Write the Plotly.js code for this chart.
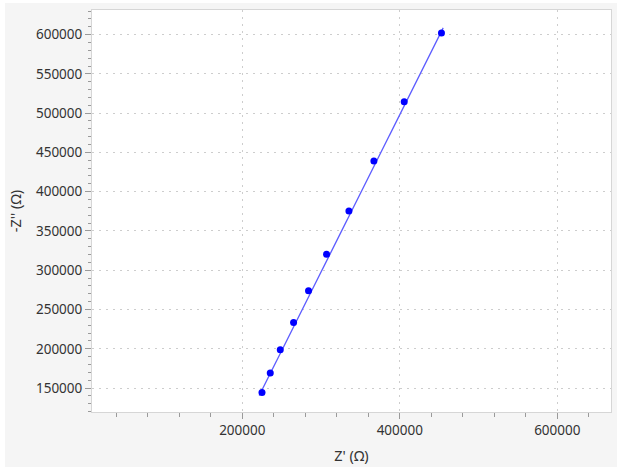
<!DOCTYPE html>
<html>
<head>
<meta charset="utf-8">
<script src="https://cdn.plot.ly/plotly-3.0.1.min.js"></script>
<style>
  html, body { margin: 0; padding: 0; background: #ffffff; }
  #grafico { position: absolute; left: 5px; top: 3px; width: 612px; height: 464px; }
</style>
</head>
<body>
<div id="grafico"></div>
<script>
/* Datos medidos: Z' y -Z'' en ohmios */
const zReal = [225000, 235500, 248200, 265100, 284100, 307000, 335400, 367100, 405600, 452900];
const zImag = [144400, 169100, 198700, 233500, 273800, 320400, 375500, 439100, 514600, 602000];

/* Extremos de la recta de ajuste */
const ajusteX = [221500, 455100];
const ajusteY = [140400, 608500];

const ejeX = "Z' (Ω)";
const ejeY = "-Z'' (Ω)";

function crearGrafico() {

    const traceAjuste = {
        type: "scatter",
        mode: "lines",
        x: ajusteX,
        y: ajusteY,
        line: { color: "#5c5cff", width: 1.3 },
        hoverinfo: "skip"
    };

    const tracePuntos = {
        type: "scatter",
        mode: "markers",
        x: zReal,
        y: zImag,
        marker: { color: "#0000ff", size: 7 }
    };

    const fuente = { family: "Noto Sans, Open Sans, sans-serif", size: 13.5, color: "#333333" };
    const fuenteTitulo = { family: "Noto Sans, Open Sans, sans-serif", size: 14.5, color: "#333333" };

    const ejeComun = {
        showline: true,
        mirror: true,
        linecolor: "#d6d6d6",
        linewidth: 1,
        showgrid: true,
        gridcolor: "#cdcdcd",
        griddash: "2px,5px",
        gridwidth: 1,
        zeroline: false,
        ticks: "outside",
        ticklen: 6,
        tickcolor: "#9a9a9a",
        tickfont: fuente,
        exponentformat: "none"
    };

    const layout = {
        margin: { l: 87, r: 6, t: 7, b: 55 },
        paper_bgcolor: "#f5f5f5",
        plot_bgcolor: "#ffffff",
        showlegend: false,
        font: fuente,
        xaxis: Object.assign({}, ejeComun, {
            range: [9143, 668190],
            dtick: 200000,
            tick0: 0,
            tickformat: "d",
            minor: { dtick: 40000, ticks: "outside", ticklen: 4, tickcolor: "#9a9a9a", showgrid: false },
            title: { text: ejeX, font: fuenteTitulo, standoff: 12 }
        }),
        yaxis: Object.assign({}, ejeComun, {
            range: [119500, 631300],
            dtick: 50000,
            tick0: 0,
            tickformat: "d",
            minor: { dtick: 10000, ticks: "outside", ticklen: 3, tickcolor: "#9a9a9a", showgrid: false },
            title: { text: ejeY, font: fuenteTitulo, standoff: 12 }
        })
    };

    Plotly.newPlot("grafico", [traceAjuste, tracePuntos], layout, { displayModeBar: false, staticPlot: true });
}

document.addEventListener("DOMContentLoaded", () => {
    crearGrafico();
});
</script>
</body>
</html>
